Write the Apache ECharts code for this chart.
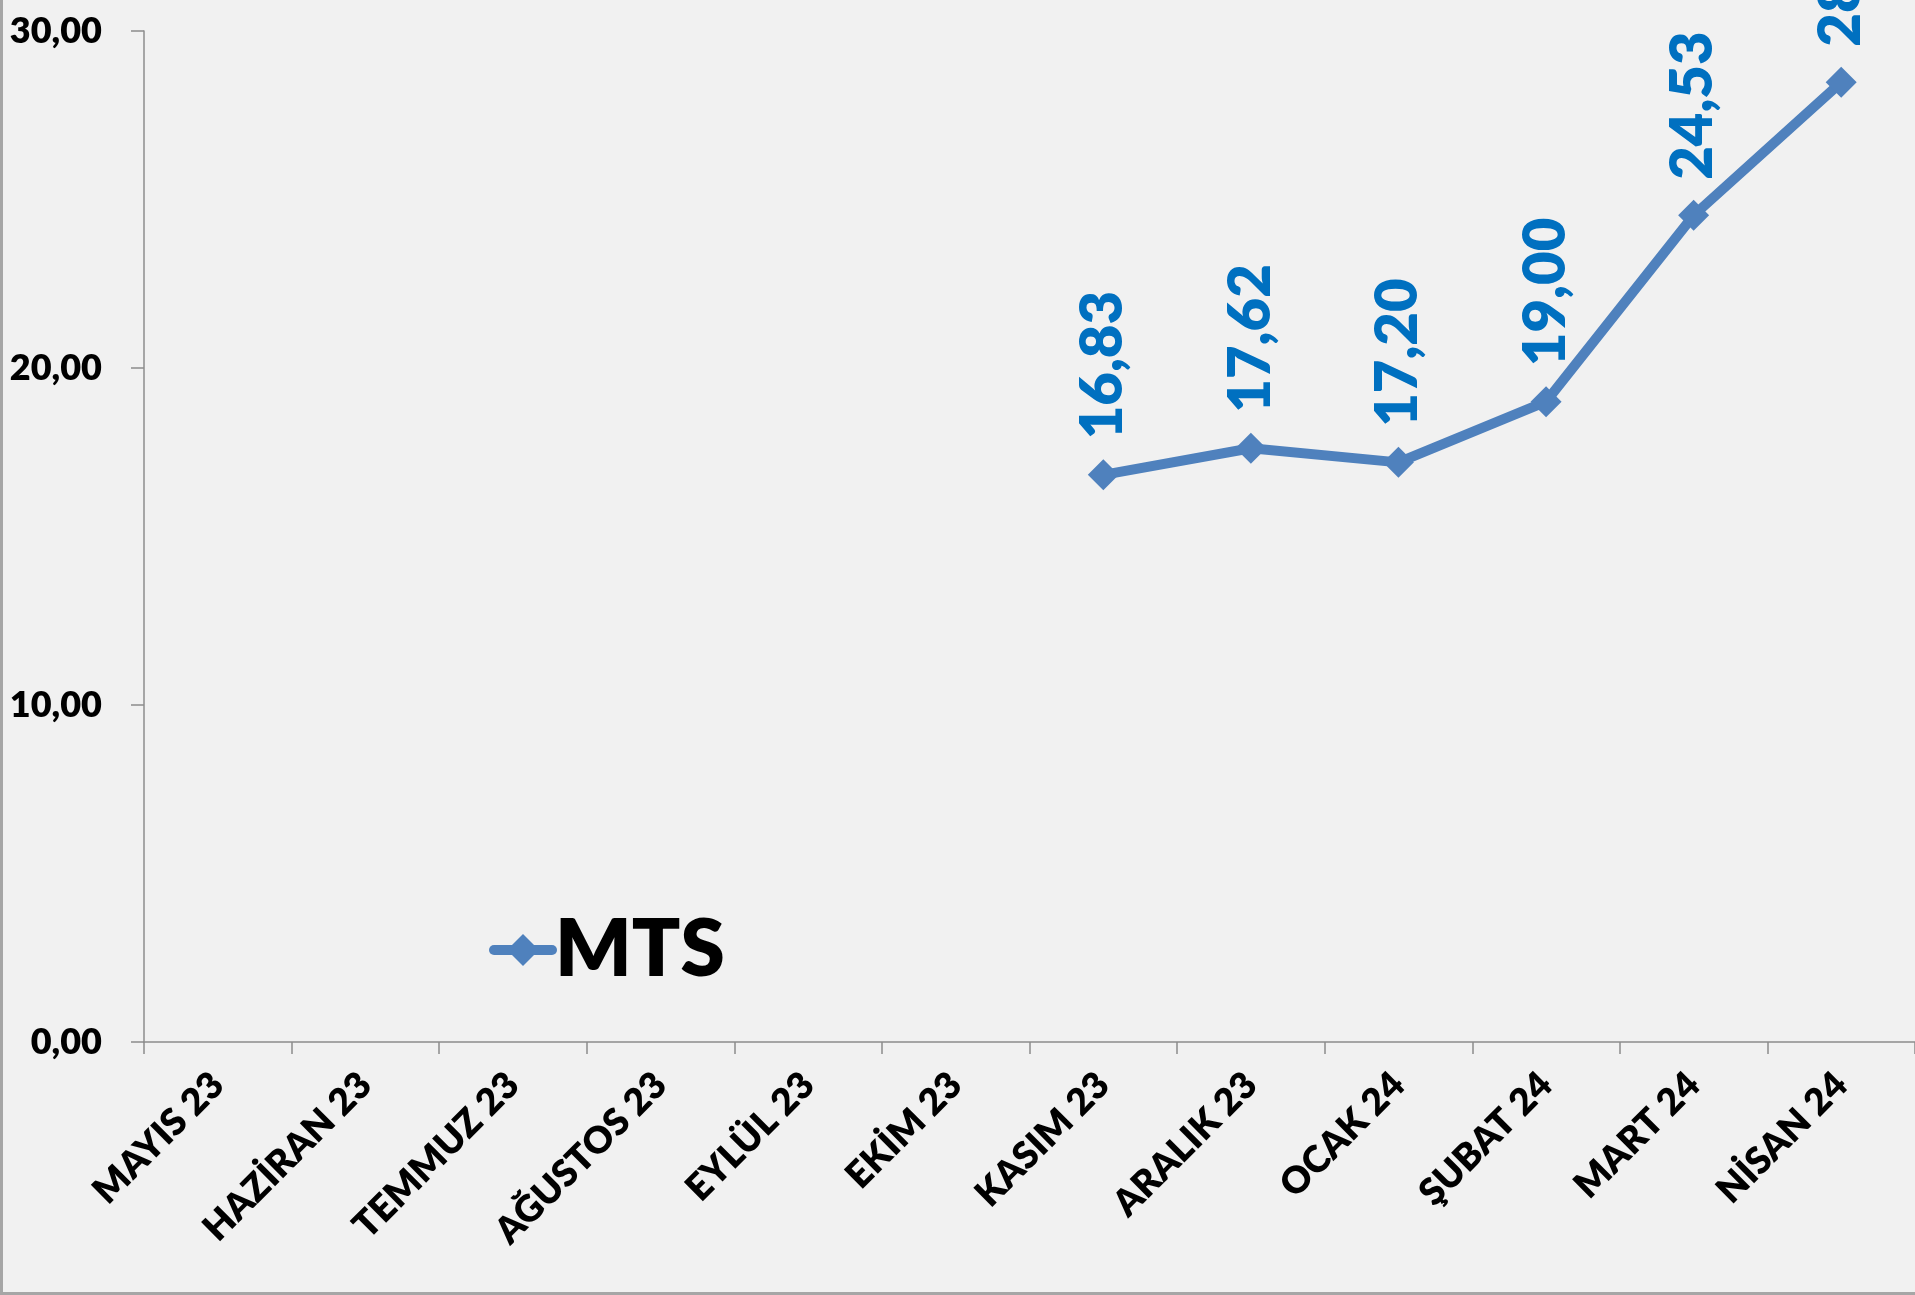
<!DOCTYPE html>
<html>
<head>
<meta charset="utf-8">
<script src="https://cdn.jsdelivr.net/npm/echarts@6/dist/echarts.min.js"></script>
<style>
  html, body { margin: 0; padding: 0; background: #f1f1f1; }
  #main {
    width: 1915px; height: 1295px; box-sizing: border-box;
    border-left: 3px solid #a6a6a6; border-bottom: 3px solid #a6a6a6;
    background: #f1f1f1;
  }
</style>
</head>
<body>
<div id="main"></div>
<script>
// aylar
var months = ['MAYIS 23', 'HAZİRAN 23', 'TEMMUZ 23', 'AĞUSTOS 23', 'EYLÜL 23', 'EKİM 23',
  'KASIM 23', 'ARALIK 23', 'OCAK 24', 'ŞUBAT 24', 'MART 24', 'NİSAN 24'];
// MTS değerleri (ilk aylar boş)
var mtsValues = [null, null, null, null, null, null, 16.83, 17.62, 17.20, 19.00, 24.53, 28.48];
var yTicks = [0, 10, 20, 30];

function trNum(v) {
  return v.toFixed(2).replace('.', ',');
}

var chartDom = document.getElementById('main');
var myChart = echarts.init(chartDom);

var option = {
  animation: false,
  textStyle: { fontFamily: 'Lato' },
  grid: { left: 141, right: -2, top: 31, bottom: 250, containLabel: false },
  legend: {
    left: 481,
    top: 905,
    itemWidth: 58,
    itemHeight: 40,
    itemGap: 4,
    lineStyle: { width: 10, cap: 'round' },
    itemStyle: { color: '#4f81bd' },
    textStyle: { fontSize: 80, fontWeight: 800, color: '#000', fontFamily: 'Lato', padding: [0, 0, 0, -2] },
    data: ['MTS']
  },
  xAxis: {
    type: 'category',
    data: months,
    boundaryGap: true,
    axisLine: { lineStyle: { color: '#8c8c8c', width: 1.5 } },
    axisTick: { show: true, length: 12, lineStyle: { color: '#8c8c8c', width: 1.5 } },
    axisLabel: {
      interval: 0,
      rotate: 45,
      margin: 37,
      fontSize: 37,
      fontWeight: 800,
      color: '#000',
      fontFamily: 'Lato'
    }
  },
  yAxis: {
    type: 'value',
    min: yTicks[0],
    max: yTicks[yTicks.length - 1],
    interval: 10,
    splitLine: { show: false },
    axisLine: { show: true, lineStyle: { color: '#8c8c8c', width: 1.5 } },
    axisTick: { show: true, inside: false, length: 13, lineStyle: { color: '#8c8c8c', width: 1.5 } },
    axisLabel: {
      margin: 42,
      fontSize: 36,
      fontWeight: 800,
      color: '#000',
      fontFamily: 'Lato',
      formatter: function (v) { return trNum(v); }
    }
  },
  series: [
    {
      name: 'MTS',
      type: 'line',
      data: mtsValues,
      connectNulls: false,
      symbol: 'diamond',
      symbolSize: 31,
      lineStyle: { color: '#4f81bd', width: 10 },
      itemStyle: { color: '#4f81bd' },
      label: {
        show: true,
        position: 'top',
        distance: 20,
        rotate: 90,
        align: 'left',
        verticalAlign: 'middle',
        fontSize: 58,
        fontWeight: 800,
        color: '#0070c0',
        fontFamily: 'Lato',
        formatter: function (p) { return trNum(p.value); }
      }
    }
  ]
};

myChart.setOption(option);
</script>
</body>
</html>
